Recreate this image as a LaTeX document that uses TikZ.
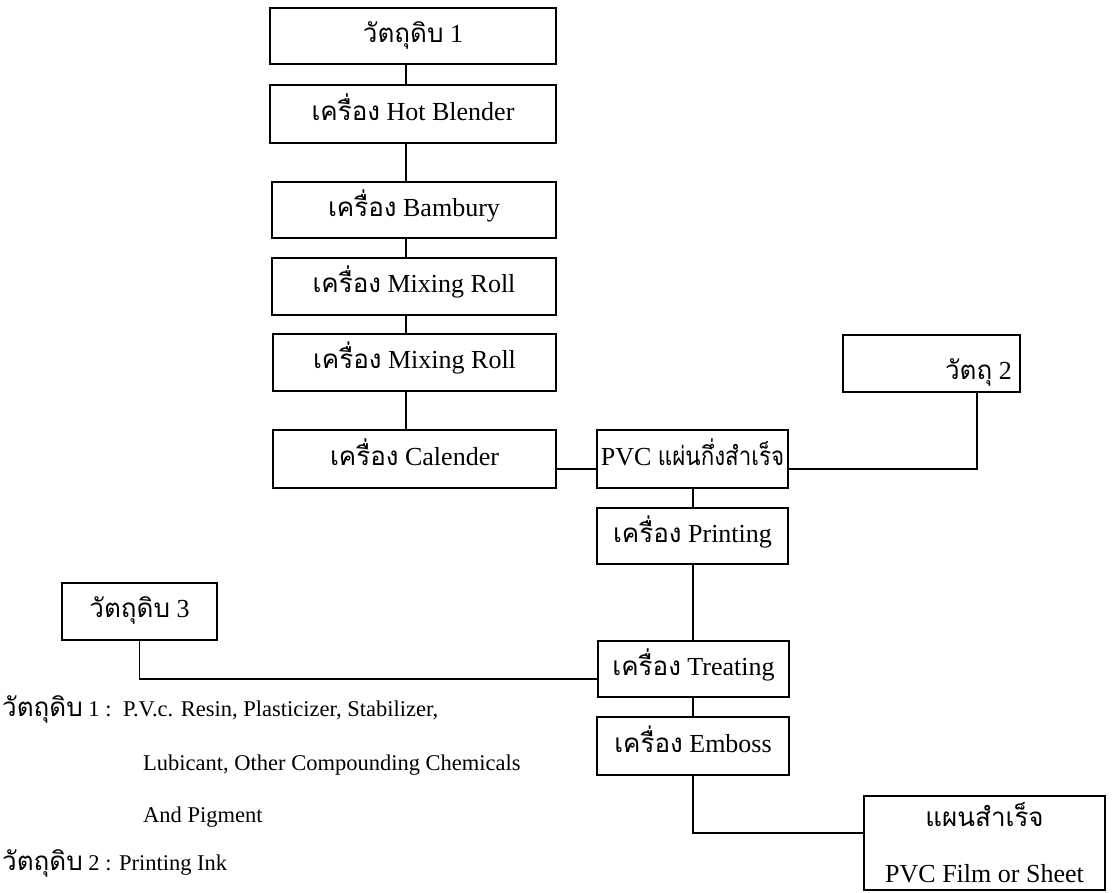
\documentclass[tikz,border=0pt]{standalone}
\usepackage{fontspec}
\setmainfont{Liberation Serif}
\newfontfamily\thaifont[Script=Thai]{Loma}
\newfontfamily\thaicond[Script=Thai,FakeStretch=0.86]{Loma}
\newcommand{\thaiw}[1]{{\thaifont #1}}
\newcommand{\thaileg}[1]{{\fontsize{26}{26}\thaifont #1}}
\begin{document}
\begin{tikzpicture}[x=1pt,y=-1pt,
  box/.style={draw,line width=1.3pt,inner sep=0pt,text height=18pt,text depth=6pt,font=\fontsize{26}{30}\selectfont},
  txt/.style={inner sep=0pt,text height=18pt,text depth=6pt,font=\fontsize{26}{30}\selectfont},
  conn/.style={line width=1.4pt},
  legend/.style={anchor=base west,inner sep=0pt,font=\fontsize{22.5}{26}\selectfont}]
\useasboundingbox (0,0) rectangle (1113,892);
% left column
\node[box,minimum width=286pt,minimum height=56pt] (b1) at (413,36) {\thaiw{วัตถุดิบ} 1};
\node[box,minimum width=286pt,minimum height=58pt] (hb) at (413,114) {\thaiw{เครื่อง} Hot Blender};
\node[box,minimum width=284pt,minimum height=56pt] (ba) at (414,210) {\thaiw{เครื่อง} Bambury};
\node[box,minimum width=284pt,minimum height=57pt] (mr1) at (414,286.5) {\thaiw{เครื่อง} Mixing Roll};
\node[box,minimum width=283pt,minimum height=57pt] (mr2) at (414.5,362.5) {\thaiw{เครื่อง} Mixing Roll};
\node[box,minimum width=283pt,minimum height=58pt] (ca) at (414.5,459) {\thaiw{เครื่อง} Calender};
% right column
\node[box,minimum width=191pt,minimum height=58pt] (pvc) at (692.5,459) {PVC {\thaicond แผ่นกึ่งสำเร็จ}};
\node[box,minimum width=191pt,minimum height=56pt] (pr) at (692.5,536) {\thaiw{เครื่อง} Printing};
\node[box,minimum width=191pt,minimum height=56pt] (tr) at (693.5,669) {\thaiw{เครื่อง} Treating};
\node[box,minimum width=192pt,minimum height=58pt] (em) at (693,746) {\thaiw{เครื่อง} Emboss};
% side inputs
\node[box,minimum width=177pt,minimum height=57pt] (v2) at (931.5,363.5) {};
\node[txt,anchor=east] (v2t) at (1012,373) {\thaiw{วัตถุ} 2};
\node[box,minimum width=155pt,minimum height=57pt] (v3) at (139.5,611.5) {\thaiw{วัตถุดิบ} 3};
\node[box,minimum width=241pt,minimum height=94pt] (fin) at (984.5,843) {};
\node[txt] (fin1) at (984.5,820) {\thaiw{แผนสำเร็จ}};
\node[txt] (fin2) at (984.5,876) {PVC Film or Sheet};
% helper coordinates
\coordinate (colL) at (406,0);
\coordinate (colR) at (693,0);
\coordinate (v2x) at (977,0);
\coordinate (rowP) at (0,469);
\coordinate (rowT) at (0,679);
\coordinate (rowF) at (0,833);
% connectors
\draw[conn] (b1.south -| colL) -- (hb.north -| colL);
\draw[conn] (hb.south -| colL) -- (ba.north -| colL);
\draw[conn] (ba.south -| colL) -- (mr1.north -| colL);
\draw[conn] (mr1.south -| colL) -- (mr2.north -| colL);
\draw[conn] (mr2.south -| colL) -- (ca.north -| colL);
\draw[conn] (ca.east |- rowP) -- (pvc.west |- rowP);
\draw[conn] (pvc.east |- rowP) -| (v2x |- v2.south);
\draw[conn] (pvc.south -| colR) -- (pr.north -| colR);
\draw[conn] (pr.south -| colR) -- (tr.north -| colR);
\draw[conn] (v3.south) |- (tr.west |- rowT);
\draw[conn] (tr.south -| colR) -- (em.north -| colR);
\draw[conn] (em.south -| colR) |- (fin.west |- rowF);
% legend
\node[legend] (l1) at (2,716) {\thaileg{วัตถุดิบ} 1 :\hspace{4pt} P.V.c. Resin, Plasticizer, Stabilizer,};
\node[legend] (l2) at (143,770) {Lubicant, Other Compounding Chemicals};
\node[legend] (l3) at (143,822) {And Pigment};
\node[legend] (l4) at (2,870) {\thaileg{วัตถุดิบ} 2 : Printing Ink};
\end{tikzpicture}
\end{document}
